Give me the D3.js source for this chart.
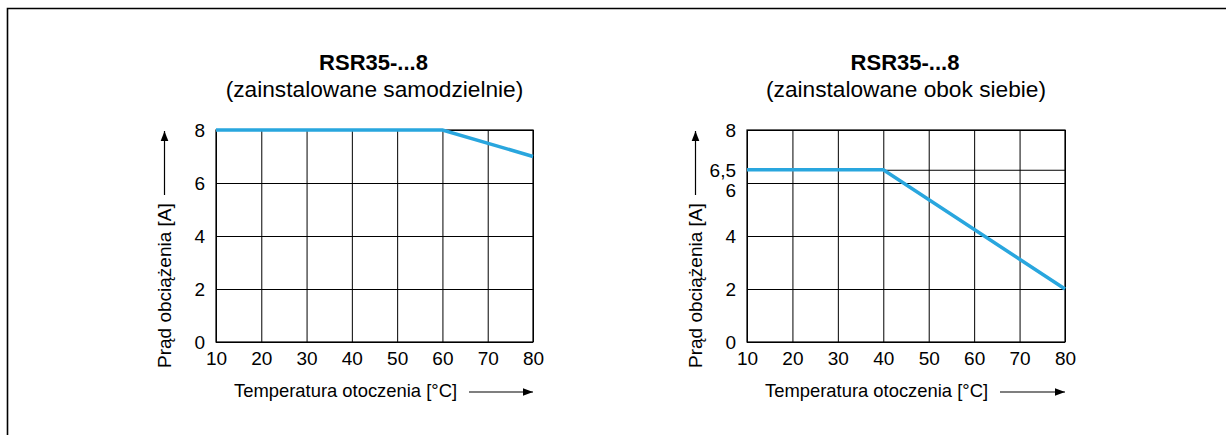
<!DOCTYPE html>
<html>
<head>
<meta charset="utf-8">
<script src="https://cdn.jsdelivr.net/npm/d3@7"></script>
<style>
  html, body { margin: 0; padding: 0; background: #fff; }
  svg { display: block; }
  text { font-family: Arial, "Liberation Sans", Helvetica, sans-serif; fill: #000; }
</style>
</head>
<body>
<svg id="chart" width="1226" height="435"></svg>
<script>
// ---- data ----
const titles = ["RSR35-...8", "RSR35-...8"];
const subtitles = ["(zainstalowane samodzielnie)", "(zainstalowane obok siebie)"];
const xTickValues = [10, 20, 30, 40, 50, 60, 70, 80];
const yTicksLeft = [0, 2, 4, 6, 8];
const yTicksRight = [0, 2, 4, 6, 6.5, 8];
const tempLeft = [10, 60, 80];
const currentLeft = [8, 8, 7];
const tempRight = [10, 40, 80];
const currentRight = [6.5, 6.5, 2];
const xAxisTitle = "Temperatura otoczenia [°C]";
const yAxisTitle = "Prąd obciążenia [A]";

const svg = d3.select("#chart");
const lineColor = "#29a6de";
const tickFont = 19;

// outer frame (open at right/bottom)
svg.append("path")
  .attr("d", "M7.5,440 L7.5,8.5 L1240,8.5")
  .attr("fill", "none").attr("stroke", "#000").attr("stroke-width", 1.6);

const defs = svg.append("defs");
defs.append("marker").attr("id", "arr")
  .attr("viewBox", "0 0 10 10").attr("refX", 10).attr("refY", 5)
  .attr("markerWidth", 10).attr("markerHeight", 10)
  .attr("markerUnits", "userSpaceOnUse").attr("orient", "auto")
  .append("path").attr("d", "M0,1.2 L10,5 L0,8.8 Z").attr("fill", "#000");

const panels = [
  { x0: 216, x1: 533, yTicks: yTicksLeft, xs: tempLeft, ys: currentLeft, title: titles[0], sub: subtitles[0],
    labelShift: {} },
  { x0: 747, x1: 1065, yTicks: yTicksRight, xs: tempRight, ys: currentRight, title: titles[1], sub: subtitles[1],
    labelShift: { 6: 7, 6.5: 0.5 } }
];
const yTop = 130, yBot = 342;

panels.forEach(p => {
  const g = svg.append("g");
  const x = d3.scaleLinear().domain([10, 80]).range([p.x0, p.x1]);
  const y = d3.scaleLinear().domain([0, 8]).range([yBot, yTop]);
  const w = p.x1 - p.x0, h = yBot - yTop;

  // vertical grid
  const gx = g.append("g").attr("transform", `translate(0,${yBot})`)
    .call(d3.axisBottom(x).tickValues(xTickValues).tickSize(-h).tickFormat(d => d));
  gx.select(".domain").remove();
  gx.selectAll(".tick line").attr("stroke", "#000").attr("stroke-width", 1);
  gx.selectAll(".tick text").attr("font-size", tickFont).attr("y", 0).attr("dy", 23)
    .style("font-family", "Arial, 'Liberation Sans', sans-serif");

  // horizontal grid
  const gy = g.append("g").attr("transform", `translate(${p.x0},0)`)
    .call(d3.axisLeft(y).tickValues(p.yTicks).tickSize(-w)
      .tickFormat(d => String(d).replace(".", ",")));
  gy.select(".domain").remove();
  gy.selectAll(".tick line").attr("stroke", "#000").attr("stroke-width", 1);
  gy.selectAll(".tick text").attr("font-size", tickFont).attr("x", -11)
    .attr("dy", d => (0.35 * tickFont + (p.labelShift[d] || 0)) + "px")
    .style("font-family", "Arial, 'Liberation Sans', sans-serif");

  // frame
  g.append("rect").attr("x", p.x0).attr("y", yTop).attr("width", w).attr("height", h)
    .attr("fill", "none").attr("stroke", "#000").attr("stroke-width", 1.2);

  // data line
  const line = d3.line().x(d => x(d[0])).y(d => y(d[1]));
  g.append("path").datum(p.xs.map((v, i) => [v, p.ys[i]]))
    .attr("d", line).attr("fill", "none").attr("stroke", lineColor)
    .attr("stroke-width", 3.5).attr("stroke-linejoin", "miter");

  // titles
  const cx = (p.x0 + p.x1) / 2;
  g.append("text").attr("x", cx - 1).attr("y", 70).attr("text-anchor", "middle")
    .attr("font-size", 22).attr("font-weight", "bold").text(p.title);
  g.append("text").attr("x", cx).attr("y", 97).attr("text-anchor", "middle")
    .attr("font-size", 22.7).text(p.sub);

  // x axis title + arrow
  g.append("text").attr("x", p.x0 + 18).attr("y", 397).attr("font-size", 18.4).text(xAxisTitle);
  g.append("line").attr("x1", p.x0 + 253).attr("x2", p.x1).attr("y1", 392).attr("y2", 392)
    .attr("stroke", "#000").attr("stroke-width", 1.2).attr("marker-end", "url(#arr)");

  // y axis title + arrow
  const ax = p.x0 - 51.5;
  g.append("text").attr("transform", `translate(${ax + 6.5},368) rotate(-90)`)
    .attr("font-size", 19).text(yAxisTitle);
  g.append("line").attr("x1", ax).attr("x2", ax).attr("y1", 195).attr("y2", 131)
    .attr("stroke", "#000").attr("stroke-width", 1.2).attr("marker-end", "url(#arr)");
});
</script>
</body>
</html>
